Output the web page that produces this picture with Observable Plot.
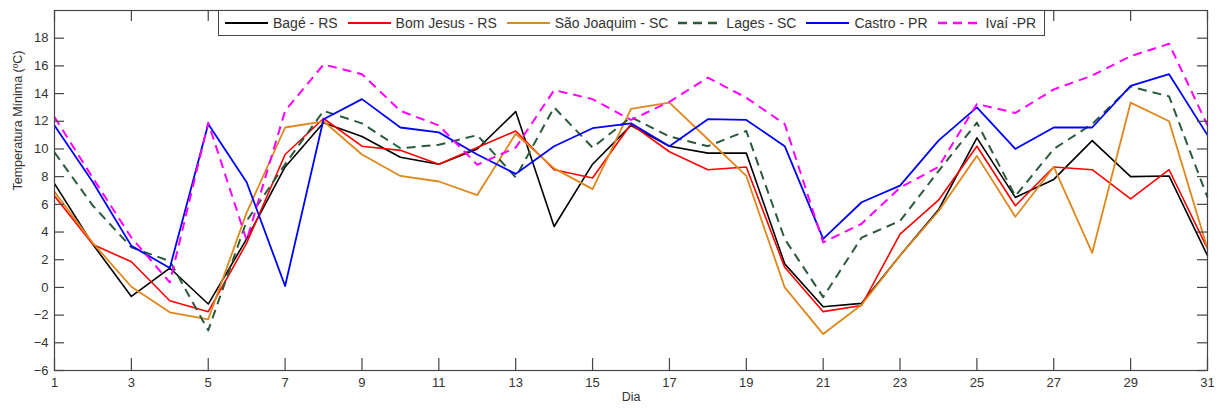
<!DOCTYPE html>
<html>
<head>
<meta charset="utf-8">
<script src="https://cdn.jsdelivr.net/npm/d3@7"></script>
<script src="https://cdn.jsdelivr.net/npm/@observablehq/plot@0.6"></script>
<style>
  body { margin: 0; background: #fff; }
  #wrap { position: relative; width: 1218px; height: 408px; font-family: "Liberation Sans", Arial, sans-serif; }
  #legend { position: absolute; left: 218px; top: 10px; width: 819px; height: 24px; border: 1px solid #444; background: #fff;
            display: flex; align-items: center; padding-left: 6px; box-sizing: content-box; font-size: 14px; color: #333; }
  .item { display: flex; align-items: center; margin-right: 10px; white-space: nowrap; }
  .item svg { margin-right: 5px; }
</style>
</head>
<body>
<div id="wrap"><div id="legend"></div></div>
<script>
const days = d3.range(1, 32);
const xTicks = [1,3,5,7,9,11,13,15,17,19,21,23,25,27,29,31];
const yTicks = [-6,-4,-2,0,2,4,6,8,10,12,14,16,18];
const seriesNames = ["Bagé - RS", "Bom Jesus - RS", "São Joaquim - SC", "Lages - SC", "Castro - PR", "Ivaí -PR"];

const bage = [7.5,3.1,-0.65,1.4,-1.2,3.5,8.7,11.9,10.9,9.4,8.9,10.0,12.7,4.4,8.9,11.7,10.2,9.7,9.7,1.7,-1.4,-1.15,2.3,5.6,10.8,6.5,7.8,10.6,8.0,8.05,2.3];
const bomJesus = [6.6,3.1,1.85,-0.96,-1.75,3.2,9.6,12.2,10.2,9.9,8.9,10.1,11.3,8.5,7.9,11.8,9.8,8.5,8.7,1.45,-1.75,-1.3,3.85,6.3,10.2,5.9,8.7,8.5,6.4,8.5,2.8];
const saoJoaquim = [6.9,3.2,0.05,-1.8,-2.3,5.4,11.55,12.0,9.6,8.05,7.65,6.67,11.1,8.6,7.1,12.9,13.35,10.7,8.05,0.0,-3.37,-1.25,2.3,5.5,9.5,5.1,8.7,2.5,13.35,12.0,2.8];
const lages = [9.75,5.9,2.9,1.9,-3.1,4.8,8.9,12.75,11.85,10.05,10.3,11.0,7.95,13.0,10.1,12.3,10.9,10.2,11.3,3.5,-0.7,3.6,4.8,8.4,11.9,6.6,10.0,11.8,14.5,13.8,6.5];
const castro = [11.7,7.6,3.0,1.4,11.8,7.6,0.1,12.15,13.6,11.55,11.2,9.6,8.2,10.2,11.5,11.85,10.2,12.15,12.1,10.2,3.5,6.15,7.35,10.6,13.0,10.0,11.55,11.55,14.56,15.4,11.0];
const ivai = [12.3,7.9,3.6,0.36,11.9,3.4,12.75,16.1,15.4,12.75,11.7,8.86,10.1,14.25,13.6,12.1,13.4,15.15,13.7,11.8,3.25,4.6,7.2,8.7,13.25,12.6,14.3,15.3,16.7,17.6,11.7];

const allValues = [bage, bomJesus, saoJoaquim, lages, castro, ivai];
const styles = [
  {stroke: "#000000", width: 1.6, dash: null},
  {stroke: "#ff0000", width: 1.6, dash: null},
  {stroke: "#e0871c", width: 1.8, dash: null},
  {stroke: "#2b5a3a", width: 2, dash: "9,6"},
  {stroke: "#0000ff", width: 1.8, dash: null},
  {stroke: "#ff00ff", width: 2, dash: "9,6"}
];

const tables = allValues.map(vals => days.map((d, i) => ({day: d, temp: vals[i]})));

const plotH = 408 - 10 - 38;
const plotW = 1218 - 54 - 11;
const axisColor = "#444";

const marks = [
  ...tables.map((t, i) => Plot.line(t, {x: "day", y: "temp", stroke: styles[i].stroke, strokeWidth: styles[i].width,
      strokeDasharray: styles[i].dash, strokeLinejoin: "round", strokeLinecap: "butt"})),
  Plot.frame({stroke: axisColor, strokeWidth: 1.2}),
  Plot.tickX(xTicks, {x: d => d, insetTop: plotH - 12, stroke: axisColor, strokeWidth: 1.2}),
  Plot.tickX(xTicks, {x: d => d, insetBottom: plotH - 11, stroke: axisColor, strokeWidth: 1.2}),
  Plot.tickY(yTicks, {y: d => d, insetRight: plotW - 10, stroke: axisColor, strokeWidth: 1.2}),
  Plot.tickY(yTicks, {y: d => d, insetLeft: plotW - 10, stroke: axisColor, strokeWidth: 1.2}),
  Plot.axisX(xTicks, {tickSize: 0, tickPadding: 7, label: null, fontSize: 13}),
  Plot.axisY(yTicks, {tickSize: 0, tickPadding: 6, label: null, fontSize: 13}),
  Plot.text(["Temperatura Mínima (ºC)"], {text: d => d, frameAnchor: "left", dx: -37, rotate: -90, fontSize: 12.5, fill: "#333"}),
  Plot.text(["Dia"], {text: d => d, frameAnchor: "bottom", dy: 30, fontSize: 12.5, fill: "#333"})
];

const chart = Plot.plot({
  width: 1218,
  height: 408,
  marginLeft: 54,
  marginRight: 11,
  marginTop: 10,
  marginBottom: 38,
  x: {domain: [1, 31]},
  y: {domain: [-6, 20]},
  style: {fontFamily: "'Liberation Sans', Arial, sans-serif", fontSize: "13px", color: "#333", background: "#fff"},
  marks
});

const wrap = document.getElementById("wrap");
wrap.insertBefore(chart, wrap.firstChild);

const legend = document.getElementById("legend");
seriesNames.forEach((name, i) => {
  const item = document.createElement("div");
  item.className = "item";
  const s = styles[i];
  item.innerHTML = `<svg width="43" height="10"><line x1="0" y1="5" x2="43" y2="5" stroke="${s.stroke}" stroke-width="${s.width + 0.4}" ${s.dash ? `stroke-dasharray="${s.dash}"` : ""}/></svg><span>${name}</span>`;
  legend.appendChild(item);
});
</script>
</body>
</html>
